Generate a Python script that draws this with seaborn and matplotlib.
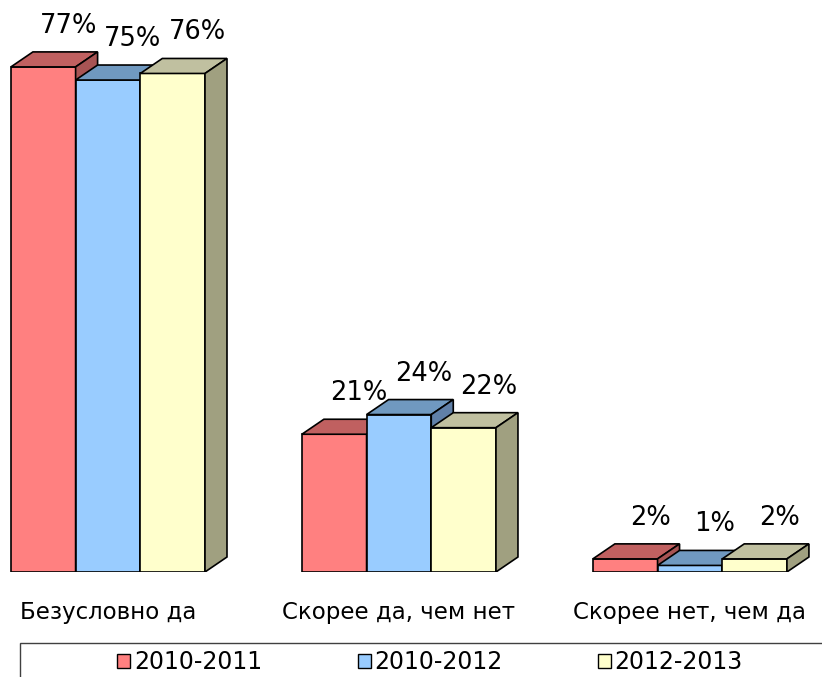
import seaborn as sns
import matplotlib.pyplot as plt
import pandas as pd
from matplotlib.patches import Polygon, Rectangle, Patch

categories = ['Безусловно да', 'Скорее да, чем нет', 'Скорее нет, чем да']
years = ['2010-2011', '2010-2012', '2012-2013']
v_2010_2011 = [77, 21, 2]
v_2010_2012 = [75, 24, 1]
v_2012_2013 = [76, 22, 2]

front = ['#FF8080', '#99CCFF', '#FFFFCC']
top = ['#C06060', '#7099C0', '#C0C0A0']
side = ['#A85454', '#6080A8', '#A0A080']

df = pd.DataFrame({
    'cat': categories * 3,
    'year': [y for y in years for _ in categories],
    'val': v_2010_2011 + v_2010_2012 + v_2012_2013,
})

sns.set_style('white')
plt.rcParams['font.family'] = ['DejaVu Sans']
plt.rcParams['text.color'] = 'black'
plt.rcParams['xtick.color'] = 'black'

fig = plt.figure(figsize=(8.22, 6.77), dpi=100)
ax = fig.add_axes([0, 105 / 677, 1, 572 / 677])

sns.barplot(data=df, x='cat', y='val', hue='year', palette=front, width=0.667,
            edgecolor='black', linewidth=1.2, saturation=1, ax=ax, legend=False)

ax.set_xlim(-0.371, 2.454)
ax.set_ylim(0, 87.2)
sns.despine(ax=ax, left=True, bottom=True)
ax.set_yticks([])
ax.set_xlabel('')
ax.set_ylabel('')
ax.tick_params(axis='x', length=0, pad=21, labelsize=16.5, labelcolor='black')

# depth of the fake 3d faces, px -> data
bb = ax.get_window_extent()
dx = 22 * (2.454 + 0.371) / bb.width
dy = 15 * 87.2 / bb.height

for i, cont in enumerate(ax.containers):
    for j, p in enumerate(cont.patches):
        p.set_zorder(3 * i + 1)
        x0 = p.get_x()
        x1 = x0 + p.get_width()
        h = p.get_height()
        ax.add_patch(Polygon([(x0, h), (x1, h), (x1 + dx, h + dy), (x0 + dx, h + dy)],
                             closed=True, fc=top[i], ec='black', lw=1.2, zorder=3 * i + 2))
        ax.add_patch(Polygon([(x1, 0), (x1 + dx, dy), (x1 + dx, h + dy), (x1, h)],
                             closed=True, fc=side[i], ec='black', lw=1.2, zorder=3 * i + 3))
        ax.annotate(f'{int(h)}%', (x0 + p.get_width() / 2, h), xytext=(18, 29.5),
                    textcoords='offset points', ha='center', va='center', fontsize=18.5,
                    color='black', zorder=20)

handles = [Patch(fc=c, ec='black', lw=1) for c in front]
fig.legend(handles, years, loc='center left', bbox_to_anchor=(108 / 822, 1 - 662 / 677),
           frameon=False, ncol=3, fontsize=17, handlelength=0.55, handleheight=0.55,
           handletextpad=0.15, columnspacing=4.05, borderaxespad=0)
fig.patches.append(Rectangle((20 / 822, -0.1), 1.0, 0.1 + 34 / 677, transform=fig.transFigure,
                             fill=False, ec='#404040', lw=1))

fig.savefig('out.png', dpi=100)
